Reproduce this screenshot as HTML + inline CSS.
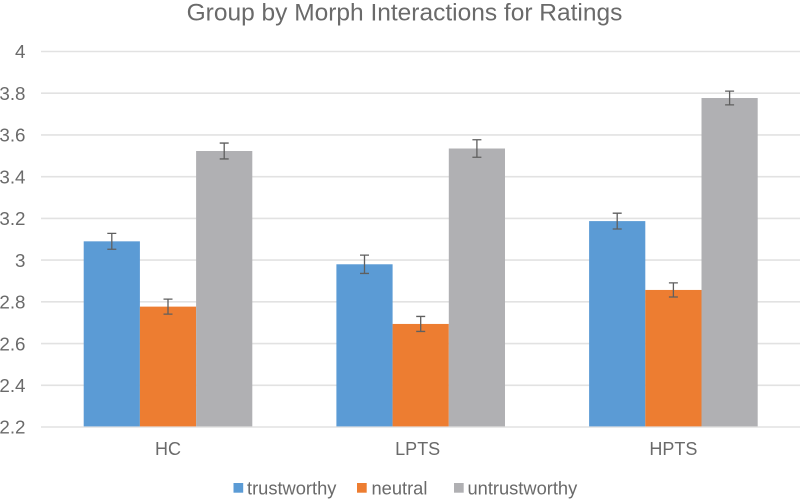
<!DOCTYPE html>
<html>
<head>
<meta charset="utf-8">
<style>
html,body{margin:0;padding:0;background:#fff;width:800px;height:500px;overflow:hidden}
svg{display:block;font-family:"Liberation Sans",Arial,sans-serif;filter:blur(0.3px)}
text{fill:#6a6a6a}
</style>
</head>
<body>
<svg id="chart" width="800" height="500" viewBox="0 0 800 500" xmlns="http://www.w3.org/2000/svg">
  <rect width="800" height="500" fill="#ffffff"/>
  <text x="404.5" y="20.5" text-anchor="middle" font-size="24.5">Group by Morph Interactions for Ratings</text>
  <g id="grid"></g>
  <g id="yticks"></g>
  <g id="bars"></g>
  <g id="errs"></g>
  <g id="xticks"></g>
  <g id="legend"></g>
</svg>
<script>
const categories = ['HC', 'LPTS', 'HPTS'];
const seriesNames = ['trustworthy', 'neutral', 'untrustworthy'];
const trustworthy = [3.09, 2.98, 3.187];
const neutral = [2.777, 2.694, 2.857];
const untrustworthy = [3.523, 3.535, 3.777];
const trustworthyErr = [0.038, 0.044, 0.038];
const neutralErr = [0.036, 0.036, 0.034];
const untrustworthyErr = [0.038, 0.042, 0.033];
const yTicks = [2.2, 2.4, 2.6, 2.8, 3, 3.2, 3.4, 3.6, 3.8, 4];

const seriesValues = [trustworthy, neutral, untrustworthy];
const seriesErrs = [trustworthyErr, neutralErr, untrustworthyErr];
const colors = ['#5b9bd5', '#ed7d31', '#b0b0b3'];
const NS = 'http://www.w3.org/2000/svg';
const plotLeft = 41, plotRight = 800, yBottom = 427, yTop = 51.5;
const yMin = 2.2, yMax = 4;
const barW = 56.2;

function yScale(v) {
  return yBottom - (v - yMin) / (yMax - yMin) * (yBottom - yTop);
}
function groupCenter(i) {
  return 168 + i * 252.7;
}
function make(tag, attrs, parent) {
  const el = document.createElementNS(NS, tag);
  for (const k in attrs) el.setAttribute(k, attrs[k]);
  parent.appendChild(el);
  return el;
}

const grid = document.getElementById('grid');
const yt = document.getElementById('yticks');
yTicks.forEach(function (t) {
  const line = make('line', {x1: plotLeft, x2: plotRight, y1: yScale(t), y2: yScale(t), stroke: '#e2e2e2', 'stroke-width': 1.6}, grid);
  
  
  const label = make('text', {x: 25.5, y: yScale(t) + 6.7, 'text-anchor': 'end', 'font-size': 18.8}, yt);
  
  
  label.textContent = String(t);
});

const bars = document.getElementById('bars');
const errs = document.getElementById('errs');
const xt = document.getElementById('xticks');
categories.forEach(function (c, i) {
  const cx = groupCenter(i);
  seriesValues.forEach(function (vals, s) {
    const x = cx + (s - 1.5) * barW;
    const y = yScale(vals[i]);
    const bar = make('rect', {x: x, y: y, width: barW, height: yBottom - 0.6 - y, fill: colors[s]}, bars);
    
    
    const mid = x + barW / 2;
    const top = yScale(vals[i] + seriesErrs[s][i]);
    const bot = yScale(vals[i] - seriesErrs[s][i]);
    const err = make('path', {d: 'M' + (mid - 4.5) + ' ' + top + 'H' + (mid + 4.5) + 'M' + mid + ' ' + top + 'V' + bot + 'M' + (mid - 4.5) + ' ' + bot + 'H' + (mid + 4.5), stroke: '#5f5f5f', 'stroke-width': 1.3, fill: 'none'}, errs);
    
    
  });
  const label = make('text', {x: cx - (i === 1 ? 3 : 0), y: 455, 'text-anchor': 'middle', 'font-size': 18}, xt);
  
  
  label.textContent = c;
});

const legend = document.getElementById('legend');
const legendSwatchX = [233.5, 357, 454];
seriesNames.forEach(function (n, s) {
  const sw = make('rect', {x: legendSwatchX[s], y: 483, width: 9.7, height: 9.7, fill: colors[s]}, legend);
  
  
  const label = make('text', {x: legendSwatchX[s] + (s === 1 ? 14.5 : 13.5), y: 494.5, 'font-size': 18.3}, legend);
  
  
  label.textContent = n;
});
</script>
</body>
</html>
